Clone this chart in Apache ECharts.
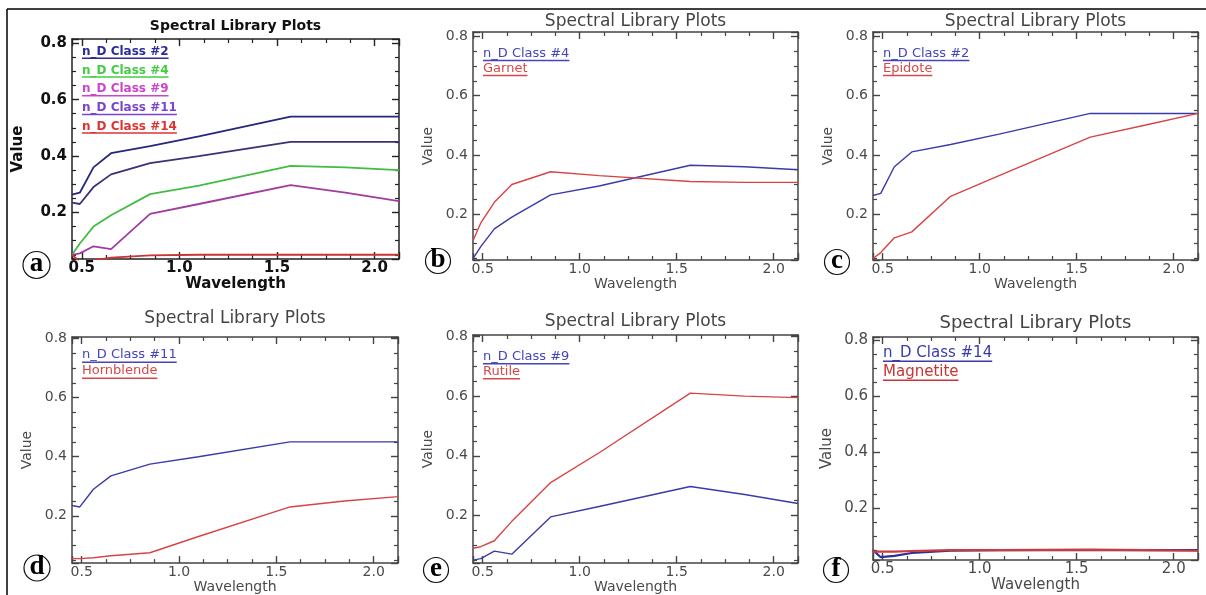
<!DOCTYPE html>
<html>
<head>
    <meta charset="utf-8">
    <title>Spectral Library Plots</title>
    <script src="https://cdn.jsdelivr.net/npm/echarts@6/dist/echarts.min.js"></script>
    <style>
        html, body {margin: 0; padding: 0; background: #fff;}
        #main {width: 1206px; height: 595px;}
    </style>
</head>
<body>
<div id="main"></div>
<script>
    // wavelength (um) of the samples, shared by every spectrum
    var wavelength = [0.45, 0.49, 0.56, 0.65, 0.85, 1.1, 1.57, 1.85, 2.125];

    // n-D class mean spectra
    var class2  = [0.263, 0.27, 0.36, 0.41, 0.435, 0.47, 0.54, 0.54, 0.54];
    var class4  = [0.05, 0.09, 0.15, 0.19, 0.265, 0.295, 0.365, 0.36, 0.35];
    var class9  = [0.05, 0.055, 0.08, 0.07, 0.195, 0.23, 0.297, 0.27, 0.24];
    var class11 = [0.235, 0.23, 0.29, 0.335, 0.375, 0.40, 0.45, 0.45, 0.45];
    var class14 = [0.05, 0.025, 0.03, 0.04, 0.048, 0.05, 0.05, 0.05, 0.05];

    // library spectra
    var garnet     = [0.11, 0.17, 0.24, 0.30, 0.343, 0.33, 0.31, 0.307, 0.307];
    var epidote    = [0.05, 0.07, 0.12, 0.14, 0.26, 0.33, 0.46, 0.50, 0.54];
    var hornblende = [0.055, 0.055, 0.058, 0.065, 0.075, 0.13, 0.23, 0.25, 0.265];
    var rutile     = [0.09, 0.095, 0.115, 0.18, 0.31, 0.41, 0.61, 0.60, 0.595];
    var magnetite  = [0.045, 0.045, 0.045, 0.047, 0.05, 0.05, 0.052, 0.05, 0.048];

    // tick labels
    var xTicks = [0.5, 1.0, 1.5, 2.0];
    var yTicks = [0.2, 0.4, 0.6, 0.8];

    var BLUE = '#3a3aa8', RED = '#d84444';
    var XMIN = 0.45, XMAX = 2.125;

    var panels = [
        {id: 'a', left: 72, top: 39, width: 327, height: 220, ymin: 0.035, ymax: 0.815,
            bold: true, font: 15, titleFont: 14, titleY: 19, nameGapY: 46, nameGapX: 10,
            legTop: 51.7, legStep: 18.7, legFont: 12, lw: 1.8, circle: [36.5, 265, 13.5],
            lines: [
                {name: 'n_D Class #2', data: class2, color: '#26267a', text: '#2c2c9a'},
                {name: 'n_D Class #4', data: class4, color: '#44bb44', text: '#44cc44'},
                {name: 'n_D Class #9', data: class9, color: '#a03ca0', text: '#cc44cc'},
                {name: 'n_D Class #11', data: class11, color: '#3c3078', text: '#7a44cc'},
                {name: 'n_D Class #14', data: class14, color: '#cc3333', text: '#dd3333'}
            ]},
        {id: 'b', left: 473, top: 32, width: 325, height: 228, ymin: 0.045, ymax: 0.815,
            font: 14, titleFont: 17, titleY: 13, nameGapY: 38, nameGapX: 10,
            legTop: 53.3, legStep: 15, legFont: 13, lw: 1.4, circle: [438, 261, 12.5],
            lines: [
                {name: 'n_D Class #4', data: class4, color: BLUE, text: '#4444bb'},
                {name: 'Garnet', data: garnet, color: RED, text: '#d84848'}
            ]},
        {id: 'c', left: 873, top: 32, width: 325, height: 228, ymin: 0.045, ymax: 0.815,
            font: 14, titleFont: 17, titleY: 13, nameGapY: 38, nameGapX: 10,
            legTop: 53.3, legStep: 15, legFont: 13, lw: 1.4, circle: [837, 262, 12.5],
            lines: [
                {name: 'n_D Class #2', data: class2, color: BLUE, text: '#4444bb'},
                {name: 'Epidote', data: epidote, color: RED, text: '#d84848'}
            ]},
        {id: 'd', left: 72, top: 337, width: 326, height: 228, ymin: 0.04, ymax: 0.805,
            font: 14, titleFont: 17, titleY: 310, nameGapY: 38, nameGapX: 7,
            legTop: 355, legStep: 16, legFont: 13, lw: 1.4, circle: [37, 568, 13],
            lines: [
                {name: 'n_D Class #11', data: class11, color: BLUE, text: '#4444bb'},
                {name: 'Hornblende', data: hornblende, color: RED, text: '#d84848'}
            ]},
        {id: 'e', left: 473, top: 335, width: 325, height: 230, ymin: 0.04, ymax: 0.805,
            font: 14, titleFont: 17, titleY: 313, nameGapY: 38, nameGapX: 11,
            legTop: 356.7, legStep: 15, legFont: 13, lw: 1.4, circle: [436, 570, 12.5],
            lines: [
                {name: 'n_D Class #9', data: class9, color: BLUE, text: '#4444bb'},
                {name: 'Rutile', data: rutile, color: RED, text: '#d84848'}
            ]},
        {id: 'f', left: 873, top: 337, width: 325, height: 223, ymin: 0.015, ymax: 0.81,
            font: 15, titleFont: 18, titleY: 314, nameGapY: 38, nameGapX: 14,
            legTop: 353, legStep: 19, legFont: 15, lw: 2.2, circle: [836, 570, 12.5],
            lines: [
                {name: 'n_D Class #14', data: class14, color: '#2e2e96', text: '#3a3aaa'},
                {name: 'Magnetite', data: magnetite, color: '#cc3a3a', text: '#cc3333'}
            ]}
    ];

    function tickLabel(ticks) {
        return function (v) {
            for (var i = 0; i < ticks.length; i++) {
                if (Math.abs(v - ticks[i]) < 1e-6) return ticks[i].toFixed(1);
            }
            return '';
        };
    }

    var measureCtx = document.createElement('canvas').getContext('2d');
    function textWidth(str, font) {
        measureCtx.font = font;
        return measureCtx.measureText(str).width;
    }

    // one IDL-like box side: line + inward major/minor ticks
    function boxAxis(color) {
        return {
            axisLine: {show: true, onZero: false, lineStyle: {color: color, width: 1.5}},
            axisTick: {show: true, inside: true, length: 7, lineStyle: {color: color, width: 1.4}},
            minorTick: {show: true, splitNumber: 4, length: 4, lineStyle: {color: color, width: 1.2}},
            splitLine: {show: false}
        };
    }

    var grids = [], xAxes = [], yAxes = [], series = [], titles = [], graphics = [];

    // outer frame (top and left edges)
    graphics.push({type: 'line', shape: {x1: 7, y1: 9, x2: 1206, y2: 9}, style: {stroke: '#000', lineWidth: 1.5}, z: 100});
    graphics.push({type: 'line', shape: {x1: 7, y1: 9, x2: 7, y2: 595}, style: {stroke: '#000', lineWidth: 1.5}, z: 100});

    panels.forEach(function (p, i) {
        var family = 'DejaVu Sans';
        var weight = p.bold ? 'bold' : 'normal';
        var txtColor = p.bold ? '#111' : '#4a4a4a';
        var boxColor = p.bold ? '#222' : '#444';

        grids.push({left: p.left, top: p.top, width: p.width, height: p.height, containLabel: false});

        var xb = boxAxis(boxColor);
        Object.assign(xb, {
            type: 'value', gridIndex: i, position: 'bottom', min: XMIN, max: XMAX, splitNumber: 4,
            axisLabel: {formatter: tickLabel(xTicks), margin: 2, color: txtColor, fontFamily: family,
                fontWeight: weight, fontSize: p.font},
            name: 'Wavelength', nameLocation: 'middle', nameGap: p.nameGapX,
            nameTextStyle: {color: txtColor, fontFamily: family, fontWeight: weight, fontSize: p.font}
        });
        var xt = boxAxis(boxColor);
        Object.assign(xt, {type: 'value', gridIndex: i, position: 'top', min: XMIN, max: XMAX, splitNumber: 4,
            axisLabel: {show: false}});
        var yl = boxAxis(boxColor);
        Object.assign(yl, {
            type: 'value', gridIndex: i, position: 'left', min: p.ymin, max: p.ymax, splitNumber: 4,
            axisLabel: {formatter: tickLabel(yTicks), margin: 5, color: txtColor, fontFamily: family,
                fontWeight: weight, fontSize: p.font},
            name: 'Value', nameLocation: 'middle', nameRotate: 90, nameGap: p.nameGapY,
            nameTextStyle: {color: txtColor, fontFamily: family, fontWeight: weight, fontSize: p.font}
        });
        var yr = boxAxis(boxColor);
        Object.assign(yr, {type: 'value', gridIndex: i, position: 'right', min: p.ymin, max: p.ymax, splitNumber: 4,
            axisLabel: {show: false}});
        xAxes.push(xb, xt);
        yAxes.push(yl, yr);

        titles.push({
            text: 'Spectral Library Plots', left: p.left + p.width / 2, top: p.titleY, textAlign: 'center', padding: 0,
            textStyle: {color: p.bold ? '#111' : '#444', fontFamily: family, fontWeight: weight, fontSize: p.titleFont}
        });

        p.lines.forEach(function (s, k) {
            series.push({
                name: p.id + ':' + s.name, type: 'line', xAxisIndex: i * 2, yAxisIndex: i * 2,
                data: wavelength.map(function (w, j) { return [w, s.data[j]]; }),
                showSymbol: false, silent: true, animation: false,
                lineStyle: {color: s.color, width: p.lw},
                itemStyle: {color: s.color}
            });

            // IDL-style legend: coloured text with an underline
            var font = weight + ' ' + p.legFont + 'px "' + family + '"';
            var y = p.legTop + k * p.legStep;
            var x = p.left + 10;
            var w = textWidth(s.name, font);
            graphics.push({type: 'text', x: x, y: y, z: 50,
                style: {text: s.name, fill: s.text, font: font, textVerticalAlign: 'middle', verticalAlign: 'middle'}});
            graphics.push({type: 'line', z: 50,
                shape: {x1: x, y1: y + p.legFont * 0.55, x2: x + w, y2: y + p.legFont * 0.55},
                style: {stroke: s.text, lineWidth: 1.5}});
        });

        // circled panel letter
        graphics.push({type: 'circle', z: 60, shape: {cx: p.circle[0], cy: p.circle[1], r: p.circle[2]},
            style: {fill: '#fff', stroke: '#111', lineWidth: 1.2}});
        graphics.push({type: 'text', z: 61, x: p.circle[0], y: p.circle[1] - 1,
            style: {text: p.id, fill: '#000', font: 'bold 27px "Liberation Serif"',
                align: 'center', verticalAlign: 'middle', textAlign: 'center', textVerticalAlign: 'middle'}});
    });

    var myChart = echarts.init(document.getElementById('main'));
    myChart.setOption({
        animation: false,
        title: titles,
        grid: grids,
        xAxis: xAxes,
        yAxis: yAxes,
        series: series,
        graphic: graphics
    });
</script>
</body>
</html>
